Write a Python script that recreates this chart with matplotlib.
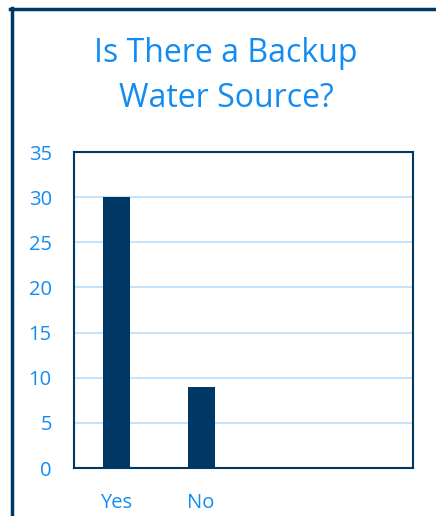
import matplotlib.pyplot as plt
from matplotlib.lines import Line2D

categories = ['Yes', 'No', '', '']
counts = [30, 9, 0, 0]
yticks = [0, 5, 10, 15, 20, 25, 30, 35]

navy = '#003865'
blue = '#128cf2'

plt.rcParams['font.family'] = ['Open Sans', 'DejaVu Sans']

fig = plt.figure(figsize=(4.36, 5.16), dpi=100)
W, H = 436, 516
ax = fig.add_axes([74 / W, 1 - 468 / H, (413 - 74) / W, (468 - 152) / H])

x = range(len(categories))
ax.bar(x, counts, width=0.32, color=navy, zorder=3)
ax.set_xlim(-0.5, 3.5)
ax.set_ylim(0, 35)
ax.set_yticks(yticks)
ax.set_xticks(list(x))
ax.set_xticklabels(categories)
ax.grid(axis='y', color='#c5e3fb', linewidth=1.5, zorder=0)
ax.tick_params(length=0, colors=blue, labelsize=14.5)
ax.tick_params(axis='y', pad=16)
ax.tick_params(axis='x', pad=18)
for s in ax.spines.values():
    s.set_color(navy)
    s.set_linewidth(1.5)

fig.text(226 / W, 1 - 76 / H, 'Is There a Backup\nWater Source?', ha='center', va='center',
         color=blue, fontsize=23, linespacing=1.45)

# outer frame on left and top
fig.add_artist(Line2D([11.5 / W, 11.5 / W], [0, 1 - 8 / H], color=navy, linewidth=2.5,
                      transform=fig.transFigure))
fig.add_artist(Line2D([10 / W, 1], [1 - 9 / H, 1 - 9 / H], color=navy, linewidth=2.5,
                      transform=fig.transFigure))

fig.savefig('out.png', dpi=100)
